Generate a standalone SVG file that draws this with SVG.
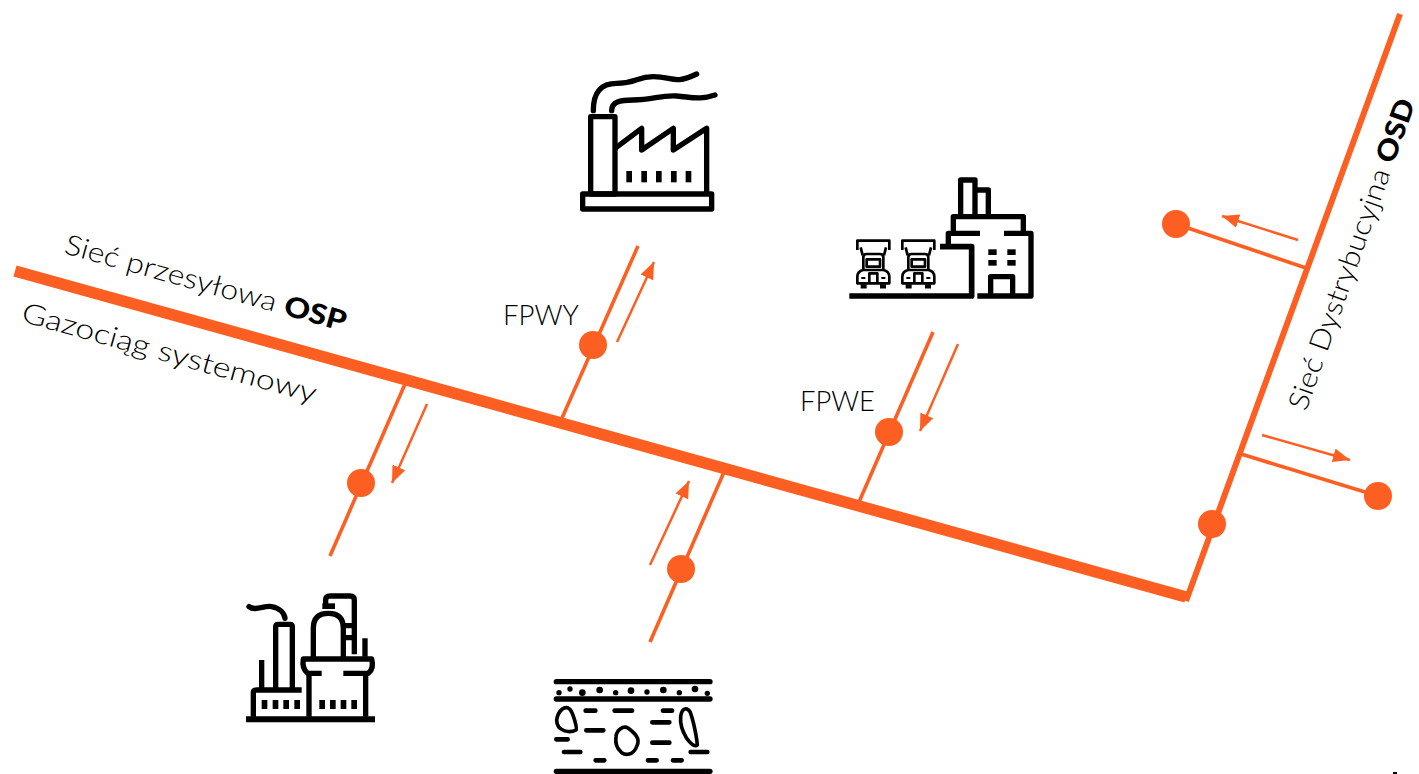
<svg xmlns="http://www.w3.org/2000/svg" width="1419" height="774" viewBox="0 0 1419 774">
<style>
.t{font-family:"Lato","Liberation Sans",sans-serif;font-size:28px;font-weight:300;fill:#000}
.b{font-weight:900}
.p{fill:none;stroke:#fd5f22}
.d{fill:#fd5f22}
.a{fill:none;stroke:#fd5f22;stroke-width:2.5;marker-end:url(#ah)}
.br{fill:none;stroke:#fd5f22;stroke-width:3.6}
.i{fill:none;stroke:#000;stroke-width:16;stroke-linejoin:round}
.l{stroke-linecap:round}
.f{fill:#000}
</style>
<defs>
<marker id="ah" markerUnits="userSpaceOnUse" markerWidth="20" markerHeight="16" refX="17" refY="7" orient="auto">
<path d="M0,0 L17,7 L0,14 Z" fill="#fd5f22"/>
</marker>
<g id="truck">
<path d="M52,240 V212 H148 V240"/>
<path d="M62,232 L68,256 M138,232 L132,256"/>
<path d="M70,300 V262 Q70,252 80,252 H120 Q130,252 130,262 V300"/>
<path d="M70,300 Q52,304 52,320 V340 H148 V320 Q148,304 130,300 Z"/>
<rect x="80" y="268" width="40" height="22"/>
<path d="M88,338 V310 H112 V338"/>
<path d="M62,349 H80 M120,349 H138" stroke-width="13"/>
<path d="M64,324 H76 M124,324 H136" stroke-width="6"/>
</g>
</defs>
<rect width="1419" height="774" fill="#fff"/>
<g id="connectors">
<path class="p" stroke-width="11.5" d="M15,271 L1186,597"/>
<path class="p" stroke-width="6" d="M1186,601 L1400,14"/>
<path class="br" d="M405,384 L330,556"/>
<path class="br" d="M638,246 L562,418"/>
<path class="br" d="M724,472 L650,642"/>
<path class="br" d="M933,332 L859,502"/>
<path class="br" d="M1306,268 L1176,224"/>
<path class="br" d="M1241,454 L1378,496"/>
<path class="a" d="M427,404 L392,483"/>
<path class="a" d="M617,342 L654,262"/>
<path class="a" d="M650,565 L689,481"/>
<path class="a" d="M958,344 L920,431"/>
<path class="a" d="M1298,240 L1222,216"/>
<path class="a" d="M1262,435 L1350,460"/>
</g>
<g id="junctions">
<circle class="d" cx="361" cy="483" r="14"/>
<circle class="d" cx="593" cy="345" r="14"/>
<circle class="d" cx="681" cy="569" r="14"/>
<circle class="d" cx="889" cy="432" r="14"/>
<circle class="d" cx="1176" cy="224" r="14"/>
<circle class="d" cx="1378" cy="496" r="14"/>
<circle class="d" cx="1212" cy="524" r="14"/>
</g>
<g id="labels">
<text class="t" transform="translate(63,253) rotate(15.6)" textLength="291" lengthAdjust="spacingAndGlyphs">Sieć przesyłowa <tspan class="b">OSP</tspan></text>
<text class="t" transform="translate(20,321) rotate(15.6)" textLength="305" lengthAdjust="spacingAndGlyphs">Gazociąg systemowy</text>
<text class="t" transform="translate(1306,412) rotate(-70.5)" textLength="328" lengthAdjust="spacingAndGlyphs">Sieć Dystrybucyjna <tspan class="b">OSD</tspan></text>
<text class="t" x="503" y="325" textLength="76" lengthAdjust="spacingAndGlyphs">FPWY</text>
<text class="t" x="800" y="411" textLength="75" lengthAdjust="spacingAndGlyphs">FPWE</text>
</g>
<g id="factory" class="i" transform="translate(560,60) scale(.3333)">
<rect x="68" y="402" width="387" height="45"/>
<rect x="92" y="170" width="73" height="232"/>
<path d="M165,265 L245,205 V270 L340,205 V270 L440,205 V402"/>
<path class="l" d="M100,152 C100,100 120,70 170,70 C230,70 230,50 280,50 C340,50 340,75 410,42"/>
<path class="l" d="M155,152 C155,125 180,120 220,120 C280,120 300,105 350,108 C400,112 420,120 465,105"/>
<g class="f" stroke="none"><rect x="199" y="333" width="17" height="34"/><rect x="244" y="333" width="17" height="34"/><rect x="288" y="333" width="17" height="34"/><rect x="333" y="333" width="17" height="34"/><rect x="377" y="333" width="17" height="34"/></g>
</g>
<g id="depot" class="i" transform="translate(840,170) scale(.3333)">
<path d="M362,135 V30 H405 V135 M410,60 H445 V135"/>
<path d="M340,185 V140 H550 V185"/>
<path d="M420,190 H325 V228 M492,190 H573 V378 H412"/>
<path d="M300,230 H395 V378 H28" stroke-width="17"/>
<path d="M452,375 V320 H518 V375"/>
<g class="f" stroke="none"><rect x="445" y="238" width="25" height="17"/><rect x="502" y="238" width="25" height="17"/><rect x="445" y="270" width="25" height="17"/><rect x="502" y="270" width="25" height="17"/></g>
<g stroke-width="8"><use href="#truck"/><use href="#truck" x="135"/></g>
</g>
<g id="refinery" class="i" transform="translate(235,585) scale(.3333)">
<path class="l" d="M42,65 C60,80 90,60 110,65 C135,70 148,85 150,100"/>
<path d="M122,310 V125 Q122,118 130,118 H165 Q172,118 172,125 V310"/>
<path d="M80,225 V310 M55,395 V322 Q55,315 65,315 H200"/>
<path d="M33,403 H420" stroke-width="18"/>
<path d="M222,395 V265 M392,395 V265"/>
<path d="M260,265 H218 Q200,250 205,222 H410 Q418,250 400,265 H325"/>
<path d="M235,220 V130 Q235,85 280,85 Q325,85 325,130 V220"/>
<path d="M272,60 V45 Q272,33 285,33 H345 Q358,33 358,45 V208"/>
<path d="M390,160 V215 M330,122 H355 M330,158 H355"/>
<rect class="f" stroke="none" x="262" y="55" width="38" height="17"/>
<g class="f" stroke="none"><rect x="80" y="345" width="17" height="27"/><rect x="113" y="345" width="17" height="27"/><rect x="145" y="345" width="17" height="27"/><rect x="178" y="345" width="17" height="27"/><rect x="253" y="345" width="17" height="27"/><rect x="285" y="345" width="17" height="27"/><rect x="317" y="345" width="17" height="27"/><rect x="349" y="345" width="17" height="27"/></g>
</g>
<g id="storage" class="i" transform="translate(540,670) scale(.3333)">
<path class="l" d="M49,35 H510 M49,87 H510 M49,304 H510"/>
<g class="f" stroke="none"><circle cx="57" cy="68" r="8"/><circle cx="90" cy="57" r="8"/><circle cx="127" cy="68" r="10"/><circle cx="179" cy="60" r="10"/><circle cx="227" cy="68" r="8"/><circle cx="273" cy="62" r="10"/><circle cx="321" cy="66" r="8"/><circle cx="370" cy="60" r="10"/><circle cx="418" cy="68" r="8"/><circle cx="465" cy="57" r="10"/><circle cx="502" cy="70" r="8"/></g>
<path class="l" stroke-width="14" d="M137,122 H166 M224,122 H276 M369,122 H396 M337,157 H388 M139,181 H190 M49,208 H83 M337,218 H388 M72,246 H121 M452,246 H502 M167,271 H193 M324,271 H350 M399,271 H425"/>
<path stroke-width="11" d="M50,150 C55,120 75,105 90,118 C100,130 112,175 108,180 C90,190 50,185 50,150 Z"/>
<path stroke-width="11" d="M228,200 C230,180 250,165 265,175 C285,190 300,205 292,225 C280,260 255,255 245,248 C230,235 225,220 228,200 Z"/>
<path stroke-width="11" d="M422,140 C425,115 440,110 450,125 C460,150 470,200 472,225 C465,232 450,220 440,205 C425,180 420,160 422,140 Z"/>
</g>
<rect class="f" x="1393" y="772" width="4" height="2"/>
</svg>
